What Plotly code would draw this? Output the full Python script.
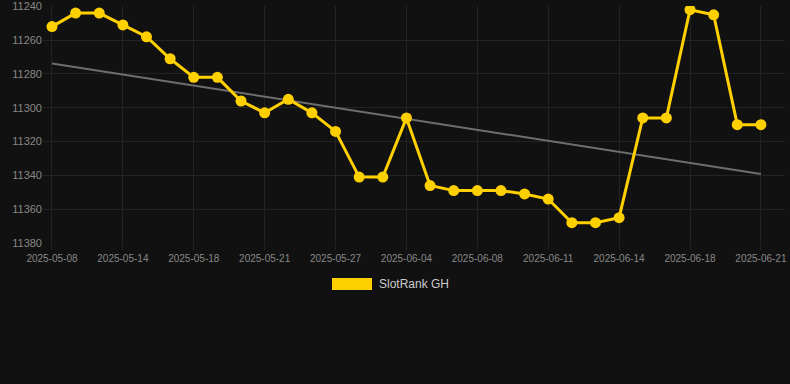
import numpy as np
import plotly.graph_objects as go

dates = ["2025-05-08", "2025-05-10", "2025-05-12", "2025-05-14", "2025-05-15", "2025-05-17",
         "2025-05-18", "2025-05-19", "2025-05-20", "2025-05-21", "2025-05-23", "2025-05-25",
         "2025-05-27", "2025-05-29", "2025-06-01", "2025-06-04", "2025-06-05", "2025-06-07",
         "2025-06-08", "2025-06-09", "2025-06-10", "2025-06-11", "2025-06-12", "2025-06-13",
         "2025-06-14", "2025-06-15", "2025-06-17", "2025-06-18", "2025-06-19", "2025-06-20",
         "2025-06-21"]
ranks = [11252, 11244, 11244, 11251, 11258, 11271, 11282, 11282, 11296, 11303, 11295, 11303,
         11314, 11341, 11341, 11306, 11346, 11349, 11349, 11349, 11351, 11354, 11368, 11368,
         11365, 11306, 11306, 11242, 11245, 11310, 11310]
tick_labels = dates[::3]
y_ticks = [11240, 11260, 11280, 11300, 11320, 11340, 11360, 11380]
y_tick_text = [str(v) for v in y_ticks]
series_name = "SlotRank GH"

idx = np.arange(len(ranks))
slope, intercept = np.polyfit(idx, ranks, 1)
trend = slope * idx + intercept

BG = "#111111"
GRID = "#232323"
YELLOW = "#FFD000"

fig = go.Figure()
fig.add_trace(go.Scatter(x=dates, y=trend, mode="lines",
                         line=dict(color="#6e6e6e", width=2), showlegend=False,
                         hoverinfo="skip"))
fig.add_trace(go.Scatter(x=dates, y=ranks, mode="lines+markers", name=series_name,
                         line=dict(color=YELLOW, width=3),
                         marker=dict(color=YELLOW, size=11), showlegend=False))

fig.update_layout(
    width=790, height=384,
    paper_bgcolor=BG, plot_bgcolor=BG,
    margin=dict(l=43, r=5, t=6, b=141),
    font=dict(family="Liberation Sans, Arial, sans-serif", color="#888888", size=11),
    showlegend=False,
)
fig.update_xaxes(type="category", tickvals=tick_labels, ticktext=tick_labels,
                 range=[-0.38, 31.02], showgrid=True, gridcolor=GRID, gridwidth=1,
                 ticks="outside", ticklen=6, tickcolor=GRID, tickfont=dict(size=10, color="#888888"),
                 showline=False, zeroline=False, automargin=False)
fig.update_yaxes(range=[11380, 11239.8], tickvals=y_ticks, ticktext=y_tick_text, showgrid=True,
                 gridcolor=GRID, gridwidth=1, zeroline=False, showline=False, ticks="",
                 tickfont=dict(size=11, color="#888888"), automargin=False)

# legend drawn manually
fig.add_shape(type="rect", xref="paper", yref="paper",
              x0=(332 - 43) / 742, x1=(372 - 43) / 742,
              y0=(243 - 290) / 237, y1=(243 - 278) / 237,
              fillcolor=YELLOW, line=dict(width=0))
fig.add_annotation(xref="paper", yref="paper", x=(377 - 43) / 742, y=(243 - 284) / 237,
                   text=series_name, showarrow=False, xanchor="left", yanchor="middle",
                   font=dict(size=12, color="#cccccc"))

html = fig.to_html(include_plotlyjs=True, full_html=True, config={"displayModeBar": False})
html = html.replace("<head>", "<head><style>html,body{margin:0;padding:0;background:#111111;overflow:hidden;}</style>", 1)
with open("out.html", "w", encoding="utf-8") as f:
    f.write(html)
